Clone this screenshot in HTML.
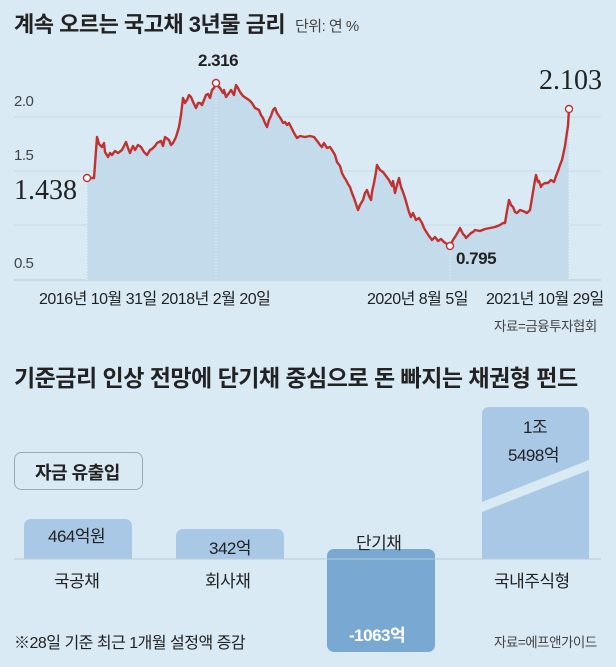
<!DOCTYPE html>
<html><head><meta charset="utf-8"><style>
html,body{margin:0;padding:0}
body{width:616px;height:667px;background:#d9eaf4;position:relative;overflow:hidden;font-family:"Liberation Sans","Noto Sans CJK KR",sans-serif;color:#222}
.t{position:absolute;white-space:nowrap;letter-spacing:-0.5px}
</style></head><body>
<svg width="616" height="667" style="position:absolute;left:0;top:0">
<g stroke="#c8d9e4" stroke-width="1">
<line x1="14" y1="117" x2="601" y2="117"/>
<line x1="14" y1="171" x2="601" y2="171"/>
<line x1="14" y1="225" x2="601" y2="225"/>
<line x1="14" y1="280" x2="601" y2="280" stroke="#b8cad6"/>
</g>
<polygon fill="#c3dbeb" points="87,178 94,178 97,137 99,144 102,147 105,152 108,157 112,155 118,153 122,150 126,142 128,148 130,153 135,150 141,147 144,152 147,155 152,149 157,143 161,141 165,137 169,140 173,143 176,137 179,127 181,115 183,98 187,100 191,97 194,104 196,108 200,103 204,100 208,94 212,90 216,83 220,88 223,93 226,97 231,90 236,85 240,92 246,98 252,103 259,110 263,118 267,127 271,116 275,108 279,116 283,123 287,125 291,127 294,133 297,138 305,137 314,137 318,142 322,147 327,148 332,150 337,162 342,173 346,180 350,187 354,198 358,210 363,200 367,190 369,196 371,200 374,183 377,165 383,172 389,180 392,186 395,193 397,185 399,178 405,198 411,217 416,220 422,223 427,233 432,240 438,241 444,242 450,246 455,237 460,228 463,234 466,238 471,233 475,230 485,229 495,227 500,225 505,223 507,211 509,200 513,207 517,213 523,211 530,210 533,192 536,175 539,181 542,185 548,183 554,182 558,171 562,160 565,146 567,132 569,109 569,280 87,280"/>
<g stroke="#e9f2f8" stroke-width="1" stroke-dasharray="1,2">
<line x1="87" y1="180" x2="87" y2="280"/><line x1="216" y1="85" x2="216" y2="280"/><line x1="450" y1="248" x2="450" y2="280"/><line x1="569" y1="110" x2="569" y2="280"/>
</g>
<polyline fill="none" stroke="#c0312f" stroke-width="2.4" stroke-linejoin="round" points="87,178 94,178 97,137 99,144 102,147 104,143 105,152 108,157 110,153 112,155 115,151 118,153 122,150 126,142 128,148 130,153 133,146 135,150 138,145 141,147 144,152 147,155 150,150 152,149 155,146 157,143 161,141 163,146 165,137 169,140 171,145 173,143 176,137 179,127 181,115 183,98 185,103 187,100 189,95 191,97 194,104 196,108 198,103 200,103 202,105 204,100 206,95 208,94 210,98 212,90 214,88 216,83 218,86 220,88 223,93 224,90 226,97 229,93 231,90 234,95 236,85 238,88 240,92 243,96 246,98 249,100 252,103 255,108 259,110 261,115 263,118 265,123 267,127 269,120 271,116 273,110 275,108 277,113 279,116 281,119 283,123 285,122 287,125 289,123 291,127 294,133 297,138 300,136 305,137 310,136 314,137 318,142 320,145 322,147 324,143 327,148 330,147 332,150 335,155 337,162 340,166 342,173 344,177 346,180 348,184 350,187 352,193 354,198 356,204 358,210 360,205 363,200 365,193 367,190 369,196 371,200 372,192 374,183 376,172 377,165 380,170 383,172 386,176 389,180 392,186 393,181 395,193 397,185 399,178 401,187 403,192 405,198 407,205 409,212 411,217 413,213 416,220 419,218 422,223 424,228 427,233 429,236 432,240 435,237 438,241 441,239 444,242 447,244 450,246 453,240 455,237 458,232 460,228 462,232 463,234 465,236 466,238 469,235 471,233 473,232 475,230 480,231 485,229 490,228 495,227 500,225 503,223 505,223 507,211 509,200 511,205 513,207 515,212 517,213 520,210 523,211 527,213 530,210 532,198 533,192 535,180 536,175 538,182 539,181 541,187 542,185 545,183 548,183 551,180 554,182 556,176 558,171 560,165 562,160 565,146 567,132 568,126 569,109"/>
<g fill="#fff" stroke="#c0312f" stroke-width="1.4">
<circle cx="87" cy="178" r="3.5"/><circle cx="216" cy="83" r="3.5"/><circle cx="450" cy="246" r="3.5"/><circle cx="569" cy="109" r="3.5"/>
</g>
<rect x="24" y="519" width="108" height="50" rx="7" fill="#a8c8e6"/>
<rect x="176" y="529" width="108" height="40" rx="7" fill="#a8c8e6"/>
<rect x="327" y="549" width="108" height="103" rx="7" fill="#79a9d2"/>
<rect x="482" y="407" width="107" height="162" rx="7" fill="#a8c8e6"/>
<rect x="14" y="559" width="587" height="20" fill="#d9eaf4"/>
<rect x="327" y="559" width="108" height="20" fill="#79a9d2"/>
<polygon points="482,502 589,460 589,470 482,512" fill="#d9eaf4"/>
<line x1="14" y1="559" x2="601" y2="559" stroke="#b8cad6" stroke-width="1"/>
<rect x="14.5" y="452.5" width="128" height="37" rx="7" fill="none" stroke="#9aa8b2" stroke-width="1"/>
</svg>
<div class="t" style="left:14px;top:7px;font-size:22px;font-weight:bold">계속 오르는 국고채 3년물 금리</div>
<div class="t" style="left:295px;top:15px;font-size:15px;color:#444">단위: 연 %</div>
<div class="t" style="left:14px;top:93px;font-size:15px;color:#444">2.0</div>
<div class="t" style="left:14px;top:147px;font-size:15px;color:#444">1.5</div>
<div class="t" style="left:14px;top:255px;font-size:15px;color:#444">0.5</div>
<div class="t" style="left:14px;top:175px;font-size:28px;font-family:'Liberation Serif',serif;color:#222;letter-spacing:0">1.438</div>
<div class="t" style="left:539px;top:65px;font-size:28px;font-family:'Liberation Serif',serif;color:#222;letter-spacing:0">2.103</div>
<div class="t" style="left:198px;top:51px;font-size:17px;font-weight:bold">2.316</div>
<div class="t" style="left:456px;top:249px;font-size:17px;font-weight:bold">0.795</div>
<div class="t" style="left:39px;top:285px;font-size:16px">2016년 10월 31일</div>
<div class="t" style="left:161px;top:285px;font-size:16px">2018년 2월 20일</div>
<div class="t" style="left:367px;top:285px;font-size:16px">2020년 8월 5일</div>
<div class="t" style="left:486px;top:285px;font-size:16px">2021년 10월 29일</div>
<div class="t" style="left:494px;top:315px;font-size:13.5px;color:#444">자료=금융투자협회</div>
<div class="t" style="left:14px;top:359px;font-size:23px;font-weight:bold">기준금리 인상 전망에 단기채 중심으로 돈 빠지는 채권형 펀드</div>
<div class="t" style="left:35px;top:459px;font-size:18px;font-weight:bold">자금 유출입</div>
<div class="t" style="left:48px;top:522px;font-size:17px">464억원</div>
<div class="t" style="left:209px;top:534px;font-size:17px">342억</div>
<div class="t" style="left:356px;top:529px;font-size:17px">단기채</div>
<div class="t" style="left:349px;top:621px;font-size:17px;color:#fff;font-weight:bold">-1063억</div>
<div class="t" style="left:523px;top:413px;font-size:17px">1조</div>
<div class="t" style="left:508px;top:441px;font-size:17px">5498억</div>
<div class="t" style="left:54px;top:567px;font-size:17px">국공채</div>
<div class="t" style="left:205px;top:567px;font-size:17px">회사채</div>
<div class="t" style="left:494px;top:567px;font-size:17px">국내주식형</div>
<div class="t" style="left:14px;top:629px;font-size:16px">※28일 기준 최근 1개월 설정액 증감</div>
<div class="t" style="left:494px;top:631px;font-size:13.5px;color:#444">자료=에프앤가이드</div>
</body></html>
